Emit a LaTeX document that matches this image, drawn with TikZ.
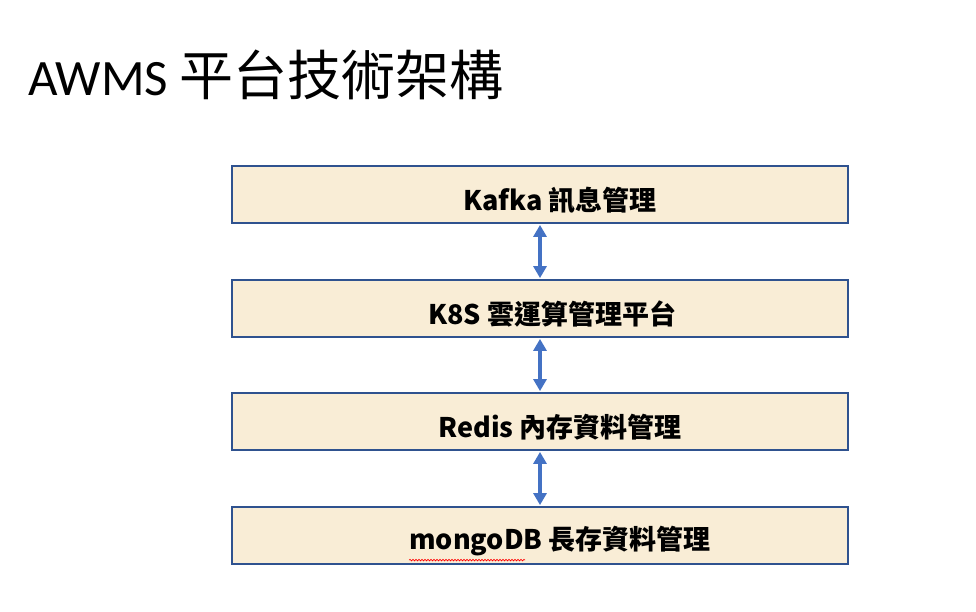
\documentclass[tikz,border=0pt]{standalone}
\usepackage{fontspec}
\setmainfont{Carlito}
\newfontfamily\cjk{Noto Sans CJK TC}
\usetikzlibrary{arrows.meta,decorations.pathmorphing}
\definecolor{boxfill}{HTML}{F9EDD6}
\definecolor{boxline}{HTML}{2F528F}
\definecolor{arrowblue}{HTML}{4472C4}
\tikzset{
  layer/.style={draw=boxline, line width=1.8pt, fill=boxfill, minimum width=616pt, minimum height=57pt, inner sep=0pt},
  label/.style={font=\cjk\bfseries\fontsize{27}{32}\selectfont, inner sep=0pt, anchor=center},
  link/.style={draw=arrowblue, line width=4pt, {Triangle[width=13pt,length=12pt]}-{Triangle[width=13pt,length=12pt]}, shorten <=1pt, shorten >=1pt}
}
\begin{document}
\begin{tikzpicture}[x=1pt,y=-1pt]
\useasboundingbox (0,0) rectangle (976,611);
\fill[white] (0,0) rectangle (976,611);
\node[anchor=west, inner sep=0pt] (title) at (28,75) {\fontsize{51}{58}\selectfont AWMS {\cjk\fontsize{54}{58}\selectfont 平台技術架構}};
\node[layer] (b1) at (540,194.5) {};
\node[layer] (b2) at (540,308.5) {};
\node[layer] (b3) at (540,421.5) {};
\node[layer] (b4) at (540,535.5) {};
\node[label] (t1) at (560,200) {Kafka 訊息管理};
\node[label] (t2) at (552,314) {K8S 雲運算管理平台};
\node[label] (t3) at (560,427) {Redis 內存資料管理};
\node[label] (t4) at (560,541) {mongoDB 長存資料管理};
\draw[link] (b1.south) -- (b2.north);
\draw[link] (b2.south) -- (b3.north);
\draw[link] (b3.south) -- (b4.north);
\draw[red, line width=0.6pt, decorate, decoration={snake, amplitude=0.8pt, segment length=3pt}] ([yshift=-4pt]t4.south west) -- ++(116,0) coordinate (sq);
\end{tikzpicture}
\end{document}
